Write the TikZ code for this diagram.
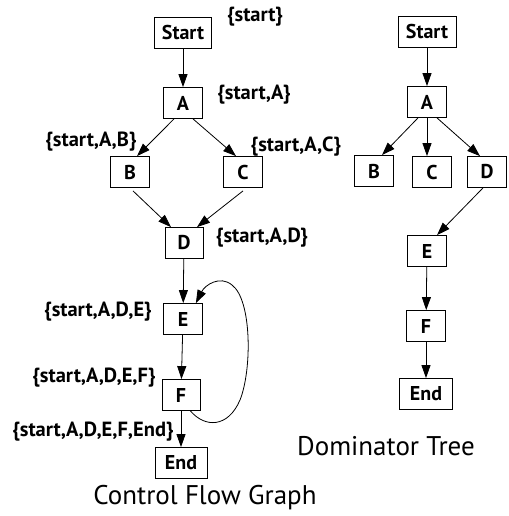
\documentclass[tikz,border=0pt]{standalone}
\usepackage{fontspec}
\setmainfont{PT Sans}
\usetikzlibrary{arrows.meta}
\begin{document}
\begin{tikzpicture}[x=1pt,y=-1pt,
  box/.style={draw,line width=0.8pt,minimum height=31pt,minimum width=39pt,inner xsep=5pt,font=\fontsize{20}{22}\selectfont\bfseries},
  lbl/.style={font=\fontsize{20.5}{22}\selectfont\bfseries,inner sep=0pt},
  ttl/.style={font=\fontsize{27}{29}\selectfont,inner sep=0pt},
  arr/.style={line width=0.8pt,-{Triangle[length=13pt,width=9pt]}}]
\useasboundingbox (0,0) rectangle (508,516);
% CFG
\node[box,minimum width=57pt] (s) at (183,33) {Start};
\node[box] (a) at (183,103) {A};
\node[box] (b) at (130,172) {B};
\node[box] (c) at (243,172) {C};
\node[box,minimum width=38pt] (d) at (184,243) {D};
\node[box] (e) at (183,319) {E};
\node[box,minimum width=38pt] (f) at (181,395) {F};
\node[box,minimum width=52pt] (en) at (181,463) {End};
\node[lbl] (ls) at (255,17) {\{start\}};
\node[lbl] (la) at (254,95) {\{start,A\}};
\node[lbl] (lb) at (91,142) {\{start,A,B\}};
\node[lbl] (lc) at (296,147) {\{start,A,C\}};
\node[lbl] (ld) at (262,238) {\{start,A,D\}};
\node[lbl] (le) at (98,312) {\{start,A,D,E\}};
\node[lbl] (lf) at (94,378) {\{start,A,D,E,F\}};
\node[lbl] (lend) at (93,432) {\{start,A,D,E,F,End\}};
\node[ttl] (t1) at (205,498) {Control Flow Graph};
\draw[arr] (s) -- (a);
\draw[arr] ([xshift=-9pt]a.south) -- ([xshift=7pt]b.north);
\draw[arr] ([xshift=10pt]a.south) -- ([xshift=-7pt]c.north);
\draw[arr] ([xshift=3pt,yshift=-3pt]b.south) -- ([xshift=-13pt]d.north);
\draw[arr] ([yshift=-3pt]c.south) -- ([xshift=13pt]d.north);
\draw[arr] (d) -- (e);
\draw[arr] (e) -- (f);
\draw[arr] (f) -- (en);
\draw[arr] ([xshift=-10pt]f.south east) .. controls (205,428) and (228,428) .. (240,400)
   .. controls (252,370) and (252,300) .. (232,285)
   .. controls (220,275) and (205,285) .. ([xshift=-7pt]e.north east);
% Dominator tree
\node[box,minimum width=58pt] (s2) at (427,32) {Start};
\node[box] (a2) at (427,102) {A};
\node[box] (b2) at (374,171) {B};
\node[box] (c2) at (432,172) {C};
\node[box] (d2) at (487,172) {D};
\node[box] (e2) at (427,251) {E};
\node[box] (f2) at (426,326) {F};
\node[box,minimum width=53pt] (en2) at (426,394) {End};
\node[ttl] (t2) at (386,446) {Dominator Tree};
\draw[arr] (s2) -- (a2);
\draw[arr] ([xshift=-9pt]a2.south) -- ([xshift=8pt]b2.north);
\draw[arr] (a2.south) -- (a2.south |- c2.north);
\draw[arr] ([xshift=10pt]a2.south) -- ([xshift=-7pt]d2.north);
\draw[arr] ([xshift=-4pt]d2.south) -- ([xshift=10pt]e2.north);
\draw[arr] (e2) -- (f2);
\draw[arr] (f2) -- (en2);
\end{tikzpicture}
\end{document}
